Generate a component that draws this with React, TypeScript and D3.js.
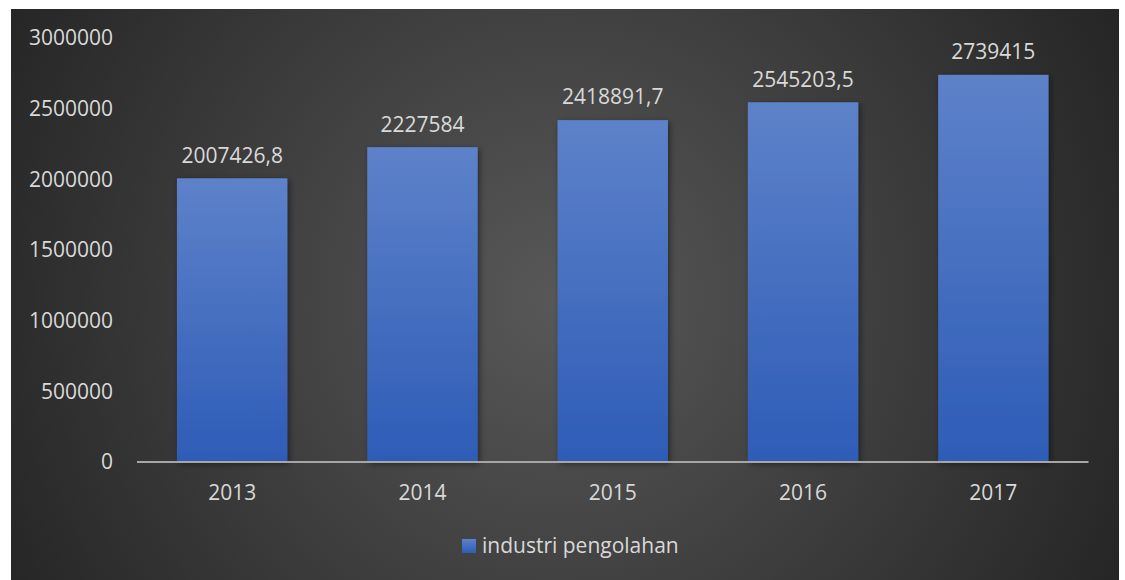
import React from "react";
import * as d3 from "d3";

const categories = ["2013", "2014", "2015", "2016", "2017"];
const values = [2007426.8, 2227584, 2418891.7, 2545203.5, 2739415];
const valueLabels = ["2007426,8", "2227584", "2418891,7", "2545203,5", "2739415"];
const yTicks = [0, 500000, 1000000, 1500000, 2000000, 2500000, 3000000];
const seriesName = "industri pengolahan";

export default function App() {
  const W = 1125, H = 580;
  const x = d3.scaleBand<string>().domain(categories).range([137, 1088.5]).paddingInner(0.42).paddingOuter(0.21);
  const y = d3.scaleLinear().domain([0, 3000000]).range([462, 38]);
  const font = "'Open Sans', sans-serif";
  const txt = "#d9d9d9";
  const fs = 21;
  return (
    <svg width={W} height={H} style={{ position: "absolute", left: 0, top: 0 }}>
      <defs>
        <radialGradient id="bg" cx="560" cy="300" r="620" gradientUnits="userSpaceOnUse">
          <stop offset="0" stopColor="#585858" />
          <stop offset="1" stopColor="#262626" />
        </radialGradient>
        <linearGradient id="bar" x1="0" y1="0" x2="0" y2="1">
          <stop offset="0" stopColor="#5d82c9" />
          <stop offset="1" stopColor="#2e5cb7" />
        </linearGradient>
        <filter id="sh" x="-20%" y="-20%" width="140%" height="140%">
          <feDropShadow dx="2" dy="2" stdDeviation="3" floodColor="#000" floodOpacity="0.45" />
        </filter>
      </defs>
      <rect x={11} y={9} width={1108} height={H - 9} fill="url(#bg)" />
      {yTicks.map((t) => (
        <text key={t} x={113} y={y(t)} dy="0.35em" textAnchor="end" fill={txt} fontFamily={font} fontSize={fs}>
          {t}
        </text>
      ))}
      {categories.map((c, i) => (
        <rect key={c} x={x(c)} y={y(values[i])} width={x.bandwidth()} height={y(0) - y(values[i])} fill="url(#bar)" filter="url(#sh)" />
      ))}
      <line x1={137} x2={1088.5} y1={y(0)} y2={y(0)} stroke="#a6a6a6" strokeWidth={2} />
      {categories.map((c, i) => (
        <text key={c} x={(x(c) as number) + x.bandwidth() / 2} y={y(values[i]) - 23} dy="0.35em" textAnchor="middle" fill={txt} fontFamily={font} fontSize={fs}>
          {valueLabels[i]}
        </text>
      ))}
      {categories.map((c) => (
        <text key={c} x={(x(c) as number) + x.bandwidth() / 2} y={493} dy="0.35em" textAnchor="middle" fill={txt} fontFamily={font} fontSize={fs}>
          {c}
        </text>
      ))}
      <rect x={462} y={539} width={14} height={14} fill="url(#bar)" />
      <text x={482} y={546} dy="0.35em" fill={txt} fontFamily={font} fontSize={fs}>
        {seriesName}
      </text>
    </svg>
  );
}
